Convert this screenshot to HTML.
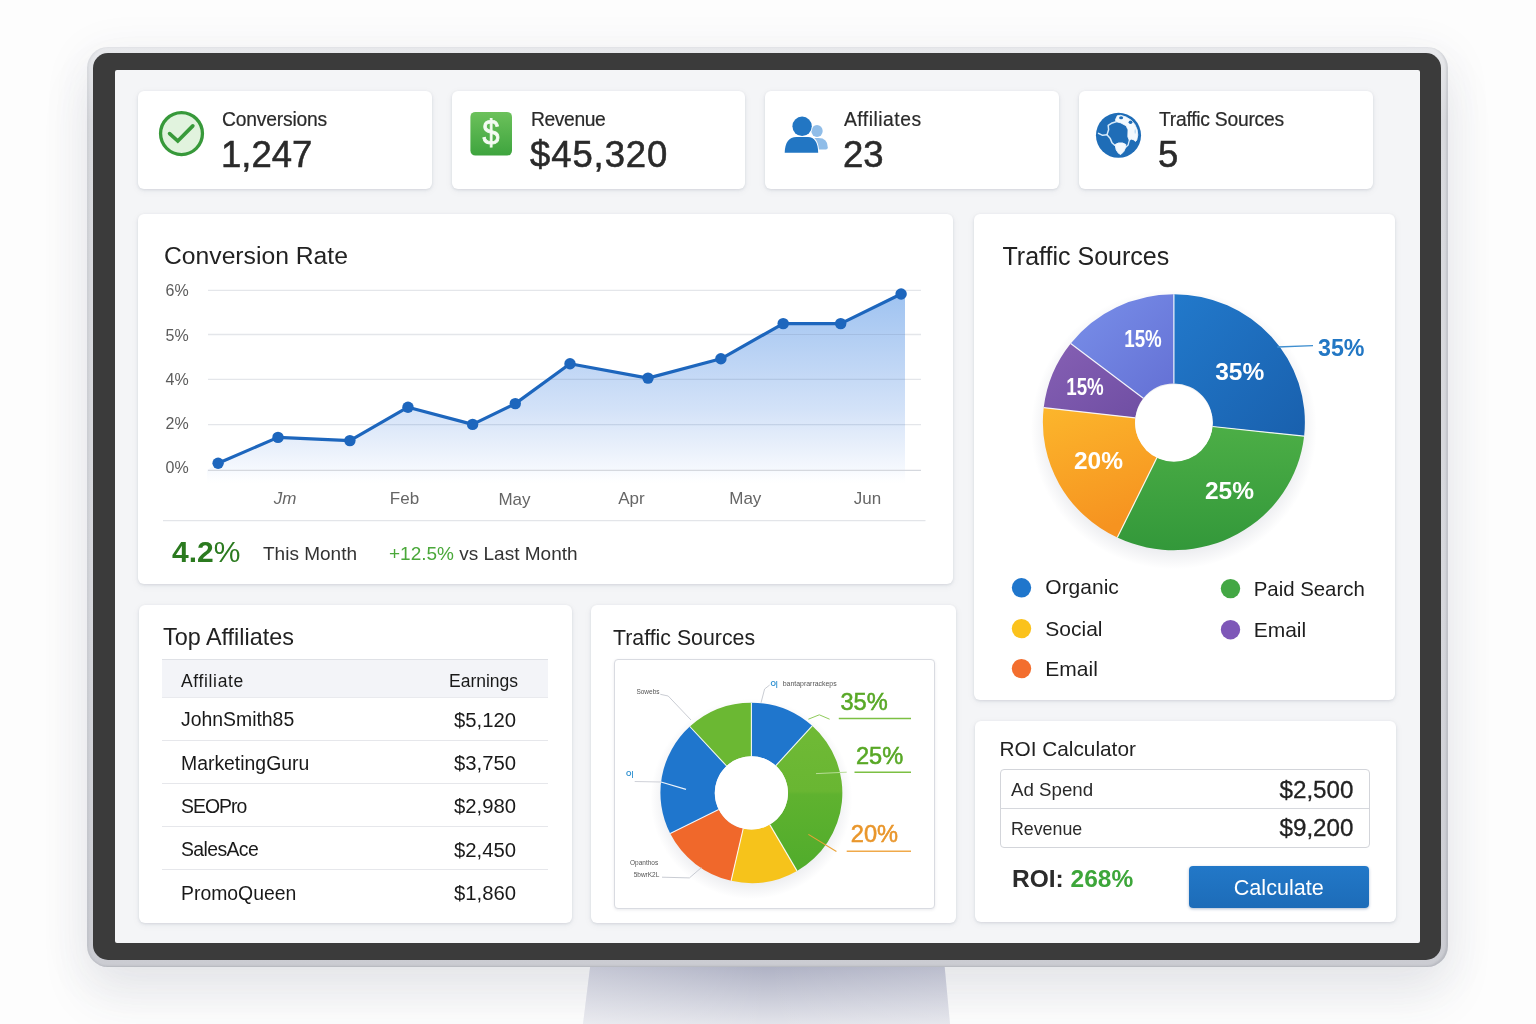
<!DOCTYPE html>
<html lang="en">
<head>
<meta charset="utf-8">
<title>Affiliate Dashboard</title>
<style>
*{box-sizing:border-box;margin:0;padding:0}
html,body{width:1536px;height:1024px;overflow:hidden}
body{background:#fdfdfd;font-family:"Liberation Sans",sans-serif;color:#222;position:relative}
.abs{position:absolute}
.glow{position:absolute;left:87px;top:47px;width:1361px;height:920px;border-radius:22px;box-shadow:0 30px 50px rgba(60,65,90,.085),0 8px 44px 8px rgba(60,65,90,.05)}
.stand{position:absolute;left:0;top:0}
.rim{position:absolute;left:87px;top:47px;width:1361px;height:920px;border-radius:21px;background:linear-gradient(180deg,#e8e9ec,#d9dade 8%,#d6d7dc 60%,#cbccd2);box-shadow:inset -2px -1px 2px rgba(80,84,100,.16),inset 2px 0 2px rgba(80,84,100,.08)}
.bezel{position:absolute;left:93px;top:53px;width:1348px;height:907px;border-radius:15px;background:#3b3b3b}
.screen{position:absolute;left:115px;top:70px;width:1305px;height:873px;border-radius:2px;background:#f4f5f7}
.card{position:absolute;background:#fff;border-radius:6px;box-shadow:0 1px 3px rgba(40,50,80,.13),0 2px 8px rgba(40,50,80,.05)}
.lbl{position:absolute;white-space:nowrap;line-height:1}
.t{color:#2a2a2a}
</style>
</head>
<body>
<div class="glow"></div>
<svg class="stand" width="1536" height="1024" viewBox="0 0 1536 1024">
  <defs>
    <linearGradient id="stg" x1="0" y1="0" x2="0" y2="1"><stop offset="0" stop-color="#a9acc0"/><stop offset="1" stop-color="#e2e3ea"/></linearGradient>
    <linearGradient id="sth" x1="0" y1="0" x2="1" y2="0"><stop offset="0" stop-color="#fff" stop-opacity=".28"/><stop offset=".5" stop-color="#fff" stop-opacity="0"/><stop offset="1" stop-color="#fff" stop-opacity=".15"/></linearGradient>
  </defs>
  <polygon points="591,960 944,960 950,1024 583,1024" fill="url(#stg)"/>
  <polygon points="591,960 944,960 950,1024 583,1024" fill="url(#sth)"/>
</svg>
<div class="rim"></div>
<div class="bezel"></div>
<div class="screen"></div>

<!-- STAT CARDS -->
<div class="card" style="left:138px;top:90.5px;width:294px;height:98px"></div>
<div class="card" style="left:452px;top:90.5px;width:293px;height:98px"></div>
<div class="card" style="left:765px;top:90.5px;width:294px;height:98px"></div>
<div class="card" style="left:1079px;top:90.5px;width:294px;height:98px"></div>

<svg class="abs" style="left:0;top:0" width="1536" height="210" viewBox="0 0 1536 210">
  <defs>
    <linearGradient id="gsq" x1="0" y1="0" x2="0" y2="1"><stop offset="0" stop-color="#6cc15b"/><stop offset="1" stop-color="#3ea43e"/></linearGradient>
  </defs>
  <!-- check -->
  <circle cx="181.5" cy="133.6" r="20.95" fill="#e1f3de" stroke="#37993a" stroke-width="3.3"/>
  <path d="M169.6 133.6 L177.8 141 L192.8 125.9" fill="none" stroke="#389a3a" stroke-width="3.7" stroke-linecap="round" stroke-linejoin="miter"/>
  <!-- dollar square -->
  <rect x="470.4" y="111.9" width="41.6" height="43.7" rx="5" fill="url(#gsq)"/>
  <!-- people -->
  <ellipse cx="817" cy="131" rx="5.7" ry="6" fill="#90bde8"/>
  <path d="M806 149.4 v-6 q0 -5.4 5.5 -5.4 h7 q9.3 0 9.3 9.5 q0 1.900 -2 1.900 z" fill="#90bde8"/>
  <circle cx="802.1" cy="126.3" r="10.6" fill="#fff"/>
  <path d="M783.7 153.200 Q784.2 136.200 797 136.200 H809 Q818.7 136.200 819.2 153.200 Z" fill="#fff"/>
  <circle cx="802.1" cy="126.3" r="9.7" fill="#2276c3"/>
  <path d="M784.7 152.700 Q785.2 137.100 796.5 137.100 H808 Q817.7 137.100 818.2 152.700 Z" fill="#2276c3"/>
  <!-- globe -->
  <circle cx="1118.5" cy="135.3" r="22.55" fill="#1f6db7"/>
  <polygon points="1117.3,115.7 1120.8,115.3 1126.1,117.0 1131.4,120.3 1134.9,124.5 1137.2,129.8 1137.8,135.1 1136.8,140.0 1135.5,141.5 1133.7,139.9 1131.4,139.2 1129.3,140.4 1127.8,136.8 1128.0,129.8 1126.1,125.8 1120.8,122.9 1116.1,121.7 1115.4,119.8" fill="#f3f9fe" stroke="#f3f9fe" stroke-width=".8" stroke-linejoin="round"/>
  <polyline points="1116.1,121.7 1111.4,123.3 1108.2,125.4 1108.6,129.8 1107.0,134.8 1110.3,138.6 1112.0,142.7 1114.7,145.3" fill="none" stroke="#d6eafa" stroke-width="1.5" stroke-linejoin="round" stroke-linecap="round"/>
  <polyline points="1107.0,134.8 1102.6,135.3 1098.5,133.3" fill="none" stroke="#d6eafa" stroke-width="1.5" stroke-linejoin="round" stroke-linecap="round"/>
  <polyline points="1129.3,140.4 1128.1,145.0 1126.0,147.1" fill="none" stroke="#d6eafa" stroke-width="1.3" stroke-linejoin="round" stroke-linecap="round"/>
  <polygon points="1115.2,144.5 1118.5,143.0 1122.6,143.0 1125.8,144.5 1125.5,147.7 1123.7,151.6 1120.8,154.5 1118.5,153.3 1116.2,149.8" fill="#f3f9fe" stroke="#f3f9fe" stroke-width="1" stroke-linejoin="round"/>
  <ellipse cx="1121.1" cy="117.8" rx="2" ry="1.5" fill="#1f6db7"/><ellipse cx="1130.5" cy="122.2" rx="1.9" ry="1.7" fill="#1f6db7"/>
  <ellipse cx="1135.2" cy="131.5" rx=".7" ry="2.200" fill="#b9d9f3"/>
</svg>
<div class="lbl" style="left:476.2px;top:113.2px;width:30px;text-align:center;transform:scaleX(.86);font-size:35.5px;font-weight:normal;-webkit-text-stroke:.9px #f4fbf2;color:#f4fbf2;line-height:40px">$</div>

<div class="lbl t" style="left:222px;top:109.5px;font-size:19.3px;-webkit-text-stroke:.2px #2a2a2a;letter-spacing:-.2px">Conversions</div>
<div class="lbl t" style="left:221px;top:136.5px;font-size:36.5px;-webkit-text-stroke:.55px #2a2a2a">1,247</div>
<div class="lbl t" style="left:531px;top:109.5px;font-size:19.3px;-webkit-text-stroke:.2px #2a2a2a;letter-spacing:-.4px">Revenue</div>
<div class="lbl t" style="left:530px;top:136.5px;font-size:36.5px;-webkit-text-stroke:.55px #2a2a2a;letter-spacing:.9px">$45,320</div>
<div class="lbl t" style="left:844px;top:109.5px;font-size:19.3px;-webkit-text-stroke:.2px #2a2a2a;letter-spacing:.5px">Affiliates</div>
<div class="lbl t" style="left:843px;top:136.5px;font-size:36.5px;-webkit-text-stroke:.55px #2a2a2a">23</div>
<div class="lbl t" style="left:1159px;top:109.5px;font-size:19.3px;-webkit-text-stroke:.2px #2a2a2a;letter-spacing:-.25px">Traffic Sources</div>
<div class="lbl t" style="left:1158px;top:136.5px;font-size:36.5px;-webkit-text-stroke:.55px #2a2a2a">5</div>

<!-- CONVERSION RATE CARD -->
<div class="card" style="left:138px;top:214.3px;width:815px;height:369.500px"></div>
<div class="lbl" style="left:164px;top:243.5px;font-size:24.700px;color:#222">Conversion Rate</div>
<svg class="abs" style="left:138px;top:214px" width="815" height="369" viewBox="138 214 815 369">
  <defs>
    <linearGradient id="area" x1="0" y1="294" x2="0" y2="486" gradientUnits="userSpaceOnUse">
      <stop offset="0" stop-color="#9fc3f1"/>
      <stop offset=".3" stop-color="#b9d2f4"/>
      <stop offset=".6" stop-color="#d3e2f8"/>
      <stop offset=".8" stop-color="#e9f0fb"/>
      <stop offset=".92" stop-color="#f6f9fe"/>
      <stop offset="1" stop-color="#fff" stop-opacity="0"/>
    </linearGradient>
    <clipPath id="areaclip"><path d="M218.1 463.2 L278 437.4 L349.9 440.6 L408 407.2 L472.6 424.4 L515.3 403.6 L570 363.75 L648 378.1 L720.9 358.8 L783.2 323.6 L840.7 323.6 L901.1 294 L905 294 L905 486 L207 486 L207 470 Z"/></clipPath>
  </defs>
  <g stroke="#e4e6ea" stroke-width="1.3">
    <line x1="208" y1="290.3" x2="921" y2="290.3"/>
    <line x1="208" y1="334.5" x2="921" y2="334.5"/>
    <line x1="208" y1="379.4" x2="921" y2="379.4"/>
    <line x1="208" y1="424.6" x2="921" y2="424.6"/>
  </g>
  <path d="M218.1 463.2 L278 437.4 L349.9 440.6 L408 407.2 L472.6 424.4 L515.3 403.6 L570 363.75 L648 378.1 L720.9 358.8 L783.2 323.6 L840.7 323.6 L901.1 294 L905 294 L905 486 L207 486 L207 470 Z" fill="url(#area)"/>
  <g stroke="#7d8fb0" stroke-opacity=".25" stroke-width="1.2" clip-path="url(#areaclip)">
    <line x1="208" y1="334.5" x2="905" y2="334.5"/>
    <line x1="208" y1="379.4" x2="905" y2="379.4"/>
    <line x1="208" y1="424.6" x2="905" y2="424.6"/>
  </g>
  <line x1="208" y1="470.4" x2="921" y2="470.4" stroke="#d5d8de" stroke-width="1.4"/>
  <path d="M218.1 463.2 L278 437.4 L349.9 440.6 L408 407.2 L472.6 424.4 L515.3 403.6 L570 363.75 L648 378.1 L720.9 358.8 L783.2 323.6 L840.7 323.6 L901.1 294" fill="none" stroke="#1d66bd" stroke-width="3.2" stroke-linejoin="round" stroke-linecap="round"/>
  <g fill="#1d66bd">
    <circle cx="218.1" cy="463.2" r="5.7"/><circle cx="278" cy="437.4" r="5.7"/><circle cx="349.9" cy="440.6" r="5.7"/>
    <circle cx="408" cy="407.2" r="5.7"/><circle cx="472.6" cy="424.4" r="5.7"/><circle cx="515.3" cy="403.6" r="5.7"/>
    <circle cx="570" cy="363.75" r="5.7"/><circle cx="648" cy="378.1" r="5.7"/><circle cx="720.9" cy="358.8" r="5.7"/>
    <circle cx="783.2" cy="323.6" r="5.7"/><circle cx="840.7" cy="323.6" r="5.7"/><circle cx="901.1" cy="294" r="5.7"/>
  </g>
  <g font-family="Liberation Sans, sans-serif" font-size="16" fill="#5c5c5c">
    <text x="165.5" y="296.2">6%</text>
    <text x="165.5" y="340.6">5%</text>
    <text x="165.5" y="385.2">4%</text>
    <text x="165.5" y="428.6">2%</text>
    <text x="165.5" y="472.8">0%</text>
  </g>
  <g font-family="Liberation Sans, sans-serif" font-size="17" fill="#666" text-anchor="middle">
    <text x="285" y="504.4" font-style="italic">Jm</text>
    <text x="404.5" y="504.4">Feb</text>
    <text x="514.5" y="505.4">May</text>
    <text x="631.5" y="504.4">Apr</text>
    <text x="745.3" y="504.4">May</text>
    <text x="867.5" y="504.4">Jun</text>
  </g>
  <line x1="163" y1="520.6" x2="925.5" y2="520.6" stroke="#e3e5e9" stroke-width="1.3"/>
</svg>
<div class="lbl" style="left:172px;top:537px;font-size:30px;color:#2b7a1f"><b>4.2</b>%</div>
<div class="lbl" style="left:263px;top:543.5px;font-size:19px;color:#333">This Month</div>
<div class="lbl" style="left:389px;top:543.5px;font-size:19px;color:#333"><span style="color:#4aa83a">+12.5%</span> vs Last Month</div>

<!-- TRAFFIC SOURCES (RIGHT) -->
<div class="card" style="left:974px;top:214px;width:421px;height:486px"></div>
<div class="lbl" style="left:1002.5px;top:244px;font-size:25px;color:#222">Traffic Sources</div>
<svg class="abs" id="pie1" style="left:974px;top:214px" width="421" height="486" viewBox="974 214 421 486">
<defs>
<linearGradient id="p1b" x1="0" y1="0" x2="1" y2="1"><stop offset="0" stop-color="#2279cb"/><stop offset="1" stop-color="#1960ad"/></linearGradient>
<linearGradient id="p1g" x1="0" y1="0" x2="0" y2="1"><stop offset="0" stop-color="#4cae46"/><stop offset="1" stop-color="#33983a"/></linearGradient>
<linearGradient id="p1o" x1="0" y1="0" x2="0.3" y2="1"><stop offset="0" stop-color="#fcb62c"/><stop offset="1" stop-color="#f69320"/></linearGradient>
<linearGradient id="p1p" x1="0" y1="0" x2="1" y2="1"><stop offset="0" stop-color="#8660b4"/><stop offset="1" stop-color="#6f4ea3"/></linearGradient>
<linearGradient id="p1v" x1="0" y1="0" x2="1" y2="1"><stop offset="0" stop-color="#7990ea"/><stop offset="1" stop-color="#6470d4"/></linearGradient>
<radialGradient id="p1sh" cx="0.5" cy="0.5" r="0.5"><stop offset="0.86" stop-color="#6a7088" stop-opacity=".13"/><stop offset="1" stop-color="#6a7088" stop-opacity="0"/></radialGradient>
</defs>
<ellipse cx="1173.9" cy="429.2" rx="143" ry="140" fill="url(#p1sh)"/>
<path d="M1173.9 294.2 A131 128 0 0 1 1304.1 436.2 L1212.5 426.5 A38.8 38.8 0 0 0 1173.9 383.4 Z" fill="url(#p1b)"/>
<path d="M1304.1 436.2 A131 128 0 0 1 1117.3 537.6 L1157.1 457.2 A38.8 38.8 0 0 0 1212.5 426.5 Z" fill="url(#p1g)"/>
<path d="M1117.3 537.6 A131 128 0 0 1 1043.7 407.7 L1135.3 417.8 A38.8 38.8 0 0 0 1157.1 457.2 Z" fill="url(#p1o)"/>
<path d="M1043.7 407.7 A131 128 0 0 1 1070.7 343.4 L1143.3 398.3 A38.8 38.8 0 0 0 1135.3 417.8 Z" fill="url(#p1p)"/>
<path d="M1070.7 343.4 A131 128 0 0 1 1173.9 294.2 L1173.9 383.4 A38.8 38.8 0 0 0 1143.3 398.3 Z" fill="url(#p1v)"/>
<line x1="1173.9" y1="383.4" x2="1173.9" y2="294.2" stroke="#fff" stroke-opacity="0.9" stroke-width="1.2"/>
<line x1="1212.5" y1="426.5" x2="1304.1" y2="436.2" stroke="#fff" stroke-opacity="0.9" stroke-width="1.2"/>
<line x1="1157.1" y1="457.2" x2="1117.3" y2="537.6" stroke="#fff" stroke-opacity="0.9" stroke-width="1.2"/>
<line x1="1135.3" y1="417.8" x2="1043.7" y2="407.7" stroke="#fff" stroke-opacity="0.9" stroke-width="1.2"/>
<line x1="1143.3" y1="398.3" x2="1070.7" y2="343.4" stroke="#fff" stroke-opacity="0.9" stroke-width="1.2"/>
<circle cx="1173.9" cy="423.0" r="38.8" fill="#fff"/>
<g font-family="Liberation Sans, sans-serif" font-weight="bold" fill="#fff" text-anchor="middle">
<text x="1239.7" y="379.600" font-size="24.5">35%</text>
<text x="1229.5" y="499.200" font-size="24.5">25%</text>
<text x="1098.5" y="468.600" font-size="24.5">20%</text>
<text x="1085" y="395.400" font-size="24" textLength="37.5" lengthAdjust="spacingAndGlyphs">15%</text>
<text x="1143" y="347.200" font-size="24" textLength="37.5" lengthAdjust="spacingAndGlyphs">15%</text>
</g>
<line x1="1277.3" y1="347" x2="1313" y2="345.600" stroke="#3f8fd0" stroke-width="1.3"/>
<text x="1318" y="355.900" font-family="Liberation Sans, sans-serif" font-weight="bold" font-size="24" fill="#2277c4" textLength="46.5" lengthAdjust="spacingAndGlyphs">35%</text>
<g font-family="Liberation Sans, sans-serif" font-size="21" fill="#1e1e1e">
<circle cx="1021.5" cy="587.8" r="9.7" fill="#1f76cc"/><text x="1045.3" y="594.2">Organic</text>
<circle cx="1021.5" cy="628.6" r="9.7" fill="#fbc21c"/><text x="1045.3" y="635.5">Social</text>
<circle cx="1021.5" cy="668.6" r="9.7" fill="#f36e2e"/><text x="1045.3" y="675.6">Email</text>
<circle cx="1230.5" cy="588.6" r="9.7" fill="#43a744"/><text x="1253.7" y="595.5" font-size="20.4">Paid Search</text>
<circle cx="1230.5" cy="629.7" r="9.7" fill="#7e57b8"/><text x="1253.7" y="637.4">Email</text>
</g>
</svg>

<!-- TOP AFFILIATES -->
<div class="card" style="left:138.500px;top:604.5px;width:433px;height:318px"></div>
<div class="lbl" style="left:163px;top:626px;font-size:23.4px;color:#222">Top Affiliates</div>
<div class="abs" style="left:162px;top:658.5px;width:385.5px;height:39px;background:#f3f4f8;border-top:1.5px solid #dfe1e6;border-bottom:1px solid #e9eaee"></div>
<div class="abs" style="left:162px;top:740px;width:385.5px;height:1.2px;background:#e6e7eb"></div>
<div class="abs" style="left:162px;top:783px;width:385.5px;height:1.2px;background:#e6e7eb"></div>
<div class="abs" style="left:162px;top:826px;width:385.5px;height:1.2px;background:#e6e7eb"></div>
<div class="abs" style="left:162px;top:869.2px;width:385.5px;height:1.2px;background:#e6e7eb"></div>
<div class="lbl" style="left:181px;top:672.5px;font-size:17.5px;letter-spacing:.65px;color:#191919">Affiliate</div>
<div class="lbl" style="left:449px;top:672.5px;font-size:17.5px;color:#191919">Earnings</div>
<div class="lbl" style="left:181px;top:710.2px;font-size:19.4px;color:#191919">JohnSmith85</div>
<div class="lbl" style="left:181px;top:753.7px;font-size:19.4px;color:#191919">MarketingGuru</div>
<div class="lbl" style="left:181px;top:796.7px;font-size:19.4px;letter-spacing:-.95px;color:#191919">SEOPro</div>
<div class="lbl" style="left:181px;top:840.2px;font-size:19.4px;letter-spacing:-.6px;color:#191919">SalesAce</div>
<div class="lbl" style="left:181px;top:883.7px;font-size:19.4px;color:#191919">PromoQueen</div>
<div class="lbl" style="left:454px;top:709.5px;font-size:20.3px;color:#191919">$5,120</div>
<div class="lbl" style="left:454px;top:753px;font-size:20.3px;color:#191919">$3,750</div>
<div class="lbl" style="left:454px;top:796px;font-size:20.3px;color:#191919">$2,980</div>
<div class="lbl" style="left:454px;top:839.5px;font-size:20.3px;color:#191919">$2,450</div>
<div class="lbl" style="left:454px;top:883px;font-size:20.3px;color:#191919">$1,860</div>

<!-- TRAFFIC SOURCES (MIDDLE) -->
<div class="card" style="left:591px;top:604.5px;width:365px;height:318px"></div>
<div class="lbl" style="left:613px;top:627.5px;font-size:21.3px;color:#222">Traffic Sources</div>
<div class="abs" style="left:613.5px;top:659px;width:321px;height:250px;border:1.3px solid #d9dbe1;border-radius:4px;background:#fff;box-shadow:0 1px 3px rgba(40,50,80,.10)"></div>
<svg class="abs" id="pie2" style="left:591px;top:604px" width="365" height="319" viewBox="591 604 365 319">
<defs>
<linearGradient id="p2g" x1="0" y1="702.7" x2="0" y2="883.1" gradientUnits="userSpaceOnUse"><stop offset="0" stop-color="#72bb37"/><stop offset=".49" stop-color="#69b632"/><stop offset=".51" stop-color="#5fb22f"/><stop offset="1" stop-color="#4eab2b"/></linearGradient>
<radialGradient id="p2sh" cx="0.5" cy="0.5" r="0.5"><stop offset="0.84" stop-color="#6a7088" stop-opacity=".12"/><stop offset="1" stop-color="#6a7088" stop-opacity="0"/></radialGradient>
</defs>
<ellipse cx="751.4" cy="798.9" rx="101" ry="100.2" fill="url(#p2sh)"/>
<path d="M751.4 702.7 A91 90.2 0 0 1 812.2 725.8 L775.8 765.7 A36.6 36.6 0 0 0 751.4 756.3 Z" fill="#1f76cd"/>
<path d="M812.2 725.8 A91 90.2 0 0 1 797.0 870.9 L769.8 824.6 A36.6 36.6 0 0 0 775.8 765.7 Z" fill="url(#p2g)"/>
<path d="M797.0 870.9 A91 90.2 0 0 1 731.1 880.8 L743.2 828.6 A36.6 36.6 0 0 0 769.8 824.6 Z" fill="#f6c31b"/>
<path d="M731.1 880.8 A91 90.2 0 0 1 670.2 833.6 L718.7 809.4 A36.6 36.6 0 0 0 743.2 828.6 Z" fill="#f0682b"/>
<path d="M670.2 833.6 A91 90.2 0 0 1 689.8 726.5 L726.6 766.0 A36.6 36.6 0 0 0 718.7 809.4 Z" fill="#1f76cd"/>
<path d="M689.8 726.5 A91 90.2 0 0 1 751.4 702.7 L751.4 756.3 A36.6 36.6 0 0 0 726.6 766.0 Z" fill="#6bb833"/>
<line x1="751.4" y1="756.3" x2="751.4" y2="702.7" stroke="#fff" stroke-opacity="0.9" stroke-width="1.1"/>
<line x1="775.8" y1="765.7" x2="812.2" y2="725.8" stroke="#fff" stroke-opacity="0.9" stroke-width="1.1"/>
<line x1="769.8" y1="824.6" x2="797.0" y2="870.9" stroke="#fff" stroke-opacity="0.9" stroke-width="1.1"/>
<line x1="743.2" y1="828.6" x2="731.1" y2="880.8" stroke="#fff" stroke-opacity="0.9" stroke-width="1.1"/>
<line x1="718.7" y1="809.4" x2="670.2" y2="833.6" stroke="#fff" stroke-opacity="0.9" stroke-width="1.1"/>
<line x1="726.6" y1="766.0" x2="689.8" y2="726.5" stroke="#fff" stroke-opacity="0.9" stroke-width="1.1"/>
<circle cx="751.4" cy="792.9" r="36.6" fill="#fff"/>
<g fill="none" stroke="#c3c6ce" stroke-width="0.9">
<polyline points="660.3,694.3 668.2,696 691,720"/>
<polyline points="769.7,685 764.6,689 761,702.8"/>
<polyline points="662,877.2 689.4,877.9 701.4,867.6"/>
</g>
<line x1="634.7" y1="781.5" x2="661" y2="782" stroke="#c9ccd4" stroke-width="0.9"/>
<line x1="661" y1="782" x2="686" y2="789.3" stroke="#eef4fb" stroke-width="1.2"/>
<polyline points="808.4,719.200 819.3,714.800 829.6,719.200" fill="none" stroke="#8fcb5a" stroke-width="1"/>
<line x1="816" y1="773.600" x2="846.7" y2="772.200" stroke="#b7dd96" stroke-width="1"/>
<line x1="808.4" y1="834.400" x2="836.4" y2="851.500" stroke="#eaa235" stroke-width="1.1"/>
<g stroke-width="1.4">
<line x1="838.8" y1="718.500" x2="911" y2="718.500" stroke="#7cc043"/>
<line x1="854.5" y1="772.200" x2="911" y2="772.200" stroke="#7cc043"/>
<line x1="846.7" y1="851.200" x2="911" y2="851.200" stroke="#f0a94a"/>
</g>
<g font-family="Liberation Sans, sans-serif" font-size="23.6" font-weight="normal">
<text x="840.5" y="709.700" fill="#58a826" stroke="#58a826" stroke-width=".55">35%</text>
<text x="856" y="764.400" fill="#58a826" stroke="#58a826" stroke-width=".55">25%</text>
<text x="850.8" y="842.300" fill="#e9962b" stroke="#e9962b" stroke-width=".55">20%</text>
</g>
<g font-family="Liberation Sans, sans-serif" font-size="6.5" fill="#555">
<text x="636.400" y="694">Sowebs</text>
<text x="782.700" y="685.500" textLength="54" lengthAdjust="spacingAndGlyphs">bantaprarrackeps</text>
<text x="630" y="865">Opanthos</text>
<text x="633.700" y="876.600">5bwrK2L</text>
</g>
<g font-family="Liberation Sans, sans-serif" font-size="7" fill="#2b8fd0" font-weight="bold">
<text x="770.400" y="685.500">O|</text>
<text x="626" y="776">O|</text>
</g>
</svg>

<!-- ROI -->
<div class="card" style="left:975px;top:721px;width:420.500px;height:200.500px"></div>
<div class="lbl" style="left:999.5px;top:739px;font-size:20.8px;color:#222">ROI Calculator</div>
<div class="abs" style="left:999.5px;top:769px;width:370px;height:78.500px;border:1.3px solid #d3d5da;border-radius:4px;background:#fff"></div>
<div class="abs" style="left:1000px;top:808px;width:369px;height:1.3px;background:#d6d8dd"></div>
<div class="lbl" style="left:1011px;top:781.3px;font-size:18.7px;color:#2a2a2a">Ad Spend</div>
<div class="lbl" style="left:1011px;top:820.5px;font-size:17.8px;color:#2a2a2a">Revenue</div>
<div class="lbl" style="left:1279.5px;top:778.2px;font-size:24.2px;color:#222;-webkit-text-stroke:.3px #222">$2,500</div>
<div class="lbl" style="left:1279.5px;top:815.8px;font-size:24.2px;color:#222;-webkit-text-stroke:.3px #222">$9,200</div>
<div class="lbl" style="left:1012px;top:866.5px;font-size:24.5px;font-weight:bold;color:#2b2b2b">ROI: <span style="color:#3da63a">268%</span></div>
<div class="abs" style="left:1188.5px;top:866px;width:180.500px;height:42px;border-radius:4px;background:linear-gradient(180deg,#2278c8,#1d6cb8);box-shadow:0 1px 3px rgba(20,60,120,.35)"></div>
<div class="lbl" style="left:1188.5px;top:876.5px;width:180.500px;text-align:center;font-size:21.6px;color:#fff">Calculate</div>
</body>
</html>
